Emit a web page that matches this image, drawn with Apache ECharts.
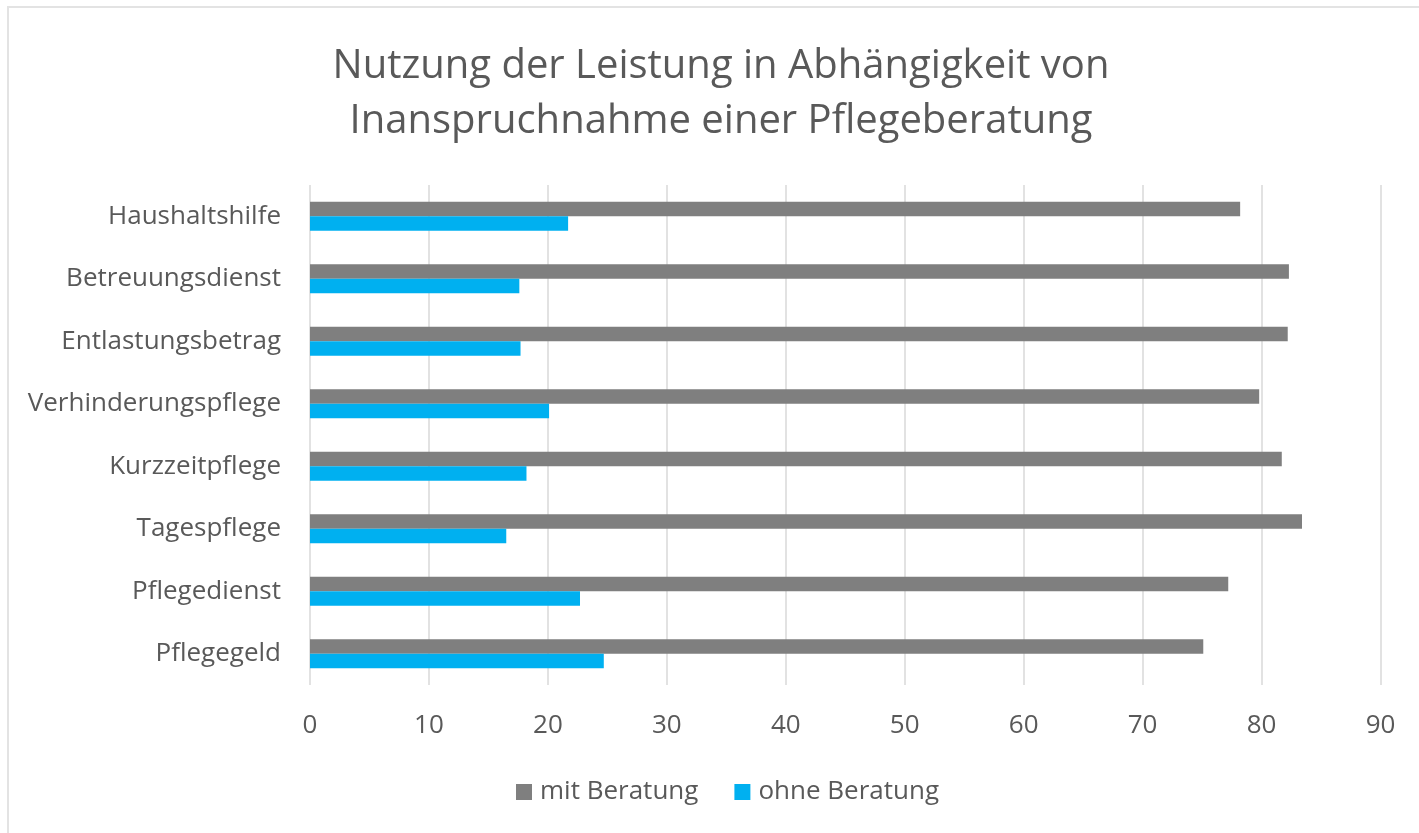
<!DOCTYPE html>
<html>
<head>
<meta charset="utf-8">
<script src="https://cdn.jsdelivr.net/npm/echarts@6/dist/echarts.min.js"></script>
<style>
    html, body { margin: 0; padding: 0; background: #fff; }
    #frame { position: absolute; left: 7px; top: 6px; right: -10px; bottom: -10px; border-top: 2px solid #e3e3e3; border-left: 2px solid #e3e3e3; }
    #chart { position: absolute; left: 0; top: 0; width: 1419px; height: 833px; }
</style>
</head>
<body>
<div id="frame"></div>
<div id="chart"></div>
<script>
// Kategorien von unten nach oben
const categories = ['Pflegegeld', 'Pflegedienst', 'Tagespflege', 'Kurzzeitpflege',
    'Verhinderungspflege', 'Entlastungsbetrag', 'Betreuungsdienst', 'Haushaltshilfe'];
const mitBeratung = [75.1, 77.2, 83.4, 81.7, 79.8, 82.2, 82.3, 78.2];
const ohneBeratung = [24.7, 22.7, 16.5, 18.2, 20.1, 17.7, 17.6, 21.7];
const xTicks = { min: 0, max: 90, interval: 10 };

const textColor = '#595959';
const font = 'Open Sans';

const myChart = echarts.init(document.getElementById('chart'));

const option = {
    backgroundColor: 'transparent',
    animation: false,
    title: {
        text: 'Nutzung der Leistung in Abhängigkeit von\nInanspruchnahme einer Pflegeberatung',
        left: 716,
        top: 34,
        textAlign: 'center',
        textStyle: {
            color: textColor,
            fontFamily: font,
            fontWeight: 'normal',
            fontSize: 40,
            lineHeight: 55
        }
    },
    legend: {
        data: ['mit Beratung', 'ohne Beratung'],
        left: 511,
        top: 774,
        icon: 'rect',
        itemWidth: 16,
        itemHeight: 16,
        itemGap: 36,
        textStyle: { color: textColor, fontFamily: font, fontSize: 26, padding: [0, 0, 0, 3] }
    },
    grid: {
        left: 310,
        right: 38.5,
        top: 185,
        bottom: 148,
        containLabel: false
    },
    xAxis: {
        type: 'value',
        min: xTicks.min,
        max: xTicks.max,
        interval: xTicks.interval,
        axisLine: { show: false },
        axisTick: { show: false },
        axisLabel: { color: textColor, fontFamily: font, fontSize: 26, margin: 28 },
        splitLine: { show: true, lineStyle: { color: '#d9d9d9', width: 1.5 } }
    },
    yAxis: {
        type: 'category',
        data: categories,
        axisLine: { show: false },
        axisTick: { show: false },
        axisLabel: { color: textColor, fontFamily: font, fontSize: 26, margin: 29 }
    },
    series: [
        {
            name: 'mit Beratung',
            type: 'bar',
            data: mitBeratung,
            barWidth: 14.5,
            barGap: '0%',
            itemStyle: { color: '#7f7f7f' }
        },
        {
            name: 'ohne Beratung',
            type: 'bar',
            data: ohneBeratung,
            barWidth: 14.5,
            barGap: '0%',
            itemStyle: { color: '#00b0f0' }
        }
    ]
};

myChart.setOption(option);
</script>
</body>
</html>
